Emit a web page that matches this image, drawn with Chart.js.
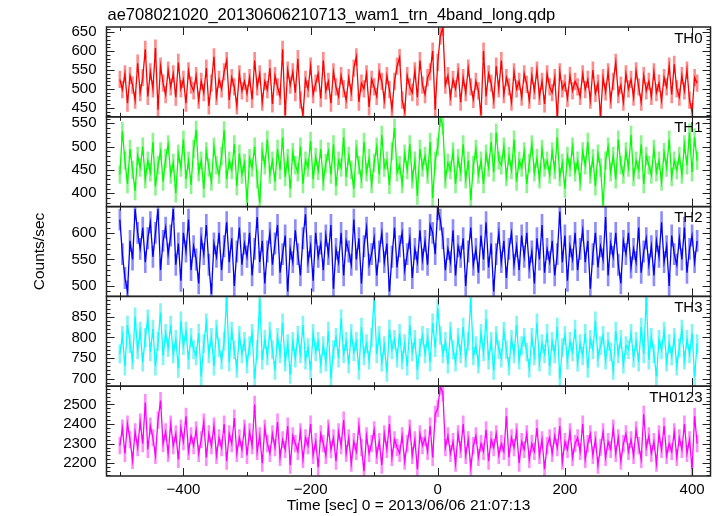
<!DOCTYPE html>
<html>
<head>
<meta charset="utf-8">
<title>ae708021020 WAM light curve</title>
<script src="https://cdn.jsdelivr.net/npm/chart.js@4/dist/chart.umd.min.js"></script>
<style>
  html, body { margin: 0; padding: 0; background: #fff; }
  canvas { display: block; }
</style>
</head>
<body>
<canvas id="lcChart" width="718" height="516"></canvas>
<script>
// 4 s bins, first bin at -500 s
var binStart = -500;
var binWidth = 4;

var bandNames = ['TH0', 'TH1', 'TH2', 'TH3', 'TH0123'];

var th0 = [
  525, 498, 540, 462, 535, 510, 470, 568, 490, 530,
  605, 480, 545, 500, 608, 445, 560, 515, 485, 550,
  505, 540, 478, 570, 500, 525, 462, 548, 510, 495,
  535, 470, 520, 490, 555, 455, 515, 585, 480, 525,
  500, 545, 575, 470, 530, 505, 455, 540, 495, 520,
  488, 530, 472, 575, 505, 540, 465, 520, 498, 555,
  460, 535, 505, 480, 605, 430, 550, 510, 545, 490,
  580, 470, 430, 525, 500, 560, 485, 515, 540, 475,
  575, 495, 520, 462, 545, 505, 480, 535, 500, 470,
  530, 490, 555, 585, 465, 515, 500, 540, 452, 525,
  505, 480, 545, 520, 470, 535, 498, 447, 520, 560,
  583, 470, 440, 535, 505, 490, 548, 478, 575, 510,
  485, 530, 545, 600, 445, 570, 640, 663, 510, 535,
  478, 525, 500, 545, 465, 530, 490, 555, 505, 472,
  520, 495, 430, 600, 480, 540, 515, 470, 560, 500,
  575, 485, 530, 505, 465, 545, 500, 520, 478, 540,
  512, 470, 535, 495, 550, 480, 520, 460, 540, 505,
  490, 530, 425, 545, 500, 515, 475, 535, 495, 520,
  505, 480, 540, 498, 525, 470, 550, 488, 515, 428,
  530, 492, 545, 470, 520, 570, 485, 510, 465, 540,
  500, 525, 478, 548, 505, 465, 535, 495, 520, 480,
  545, 490, 515, 470, 530, 505, 560, 485, 565, 500,
  478, 535, 495, 550, 470, 440, 530, 515
];

var th1 = [
  440, 533, 470, 420, 495, 450, 405, 480, 455, 500,
  430, 470, 445, 510, 415, 460, 490, 425, 475, 505,
  440, 465, 400, 485, 455, 515, 430, 470, 418, 495,
  536, 445, 470, 410, 490, 455, 425, 500, 460, 440,
  480, 535, 430, 470, 450, 505, 415, 485, 440, 465,
  382, 475, 455, 500, 430, 380, 490, 460, 515, 440,
  470, 425, 495, 450, 520, 435, 475, 410, 488, 460,
  445, 500, 420, 470, 455, 512, 430, 478, 448, 495,
  425, 465, 490, 440, 505, 415, 470, 455, 520, 435,
  480, 450, 410, 495, 460, 430, 510, 445, 475, 420,
  465, 500, 440, 525, 455, 470, 418, 490, 540, 445,
  460, 420, 485, 450, 505, 430, 470, 395, 495, 455,
  480, 440, 510, 390, 470, 500, 562, 545, 430, 465,
  450, 490, 420, 475, 445, 505, 430, 470, 385, 460,
  495, 440, 470, 420, 485, 455, 510, 445, 530, 470,
  460, 500, 435, 480, 450, 515, 425, 470, 455, 490,
  420, 465, 505, 445, 475, 430, 495, 455, 470, 440,
  490, 450, 520, 435, 465, 410, 480, 455, 500, 445,
  470, 425, 490, 460, 510, 440, 475, 415, 485, 455,
  375, 470, 500, 445, 480, 430, 515, 460, 440, 490,
  455, 525, 435, 470, 450, 505, 420, 480, 460, 440,
  495, 445, 470, 425, 488, 455, 515, 435, 470, 450,
  480, 440, 505, 460, 530, 445, 520, 470
];

var th2 = [
  625, 560, 515, 490, 585, 550, 645, 600, 570, 610,
  545, 590, 620, 555, 600, 645, 530, 585, 610, 560,
  595, 645, 540, 580, 510, 600, 565, 625, 530, 575,
  550, 505, 590, 560, 615, 540, 485, 580, 555, 600,
  530, 575, 620, 545, 590, 500, 565, 610, 540, 580,
  555, 600, 520, 570, 630, 545, 585, 505, 565, 600,
  540, 580, 615, 525, 560, 595, 490, 570, 545, 605,
  560, 520, 590, 635, 545, 575, 510, 600, 555, 580,
  530, 595, 560, 615, 495, 570, 545, 600, 520, 585,
  565, 540, 625, 550, 590, 505, 575, 610, 540, 560,
  590, 520, 565, 600, 545, 580, 490, 555, 610, 535,
  575, 600, 530, 560, 590, 515, 570, 545, 605, 550,
  585, 540, 615, 600, 560, 645, 625, 590, 530, 570,
  545, 605, 520, 575, 555, 590, 500, 565, 610, 540,
  570, 525, 595, 550, 620, 535, 580, 490, 560, 600,
  545, 585, 515, 570, 600, 540, 575, 530, 595, 555,
  600, 535, 565, 505, 590, 550, 615, 525, 570, 545,
  585, 520, 560, 640, 545, 595, 510, 575, 550, 600,
  530, 570, 605, 545, 585, 495, 560, 600, 535, 575,
  550, 630, 520, 580, 555, 600, 540, 505, 585, 560,
  600, 535, 570, 545, 610, 525, 565, 590, 540, 575,
  520, 585, 555, 620, 545, 575, 500, 595, 560, 540,
  590, 550, 610, 525, 570, 595, 545, 585
];

var th3 = [
  760, 805, 730, 830, 785, 745, 850, 770, 815, 740,
  800, 845, 765, 820, 730, 790, 860, 755, 810, 775,
  830, 760, 795, 725, 840, 780, 815, 745, 800, 770,
  755, 810, 705, 785, 835, 760, 800, 730, 820, 775,
  745, 790, 897, 740, 815, 770, 725, 805, 760, 790,
  735, 780, 810, 700, 770, 893, 745, 795, 755, 815,
  770, 720, 800, 760, 835, 740, 785, 710, 790, 750,
  805, 760, 830, 745, 775, 720, 810, 765, 790, 735,
  780, 740, 815, 700, 770, 800, 750, 845, 760, 790,
  735, 810, 765, 790, 720, 825, 755, 785, 745, 800,
  897, 760, 805, 740, 780, 715, 820, 770, 795, 750,
  810, 745, 785, 730, 830, 765, 795, 720, 775, 805,
  760, 800, 740, 835, 775, 870, 805, 760, 790, 735,
  815, 770, 740, 800, 760, 825, 750, 790, 895, 755,
  780, 735, 810, 765, 845, 745, 790, 720, 805, 770,
  750, 815, 770, 730, 795, 760, 830, 745, 780, 800,
  765, 725, 800, 755, 835, 740, 785, 760, 810, 730,
  790, 760, 825, 700, 775, 805, 745, 790, 765, 820,
  740, 785, 755, 810, 725, 795, 770, 840, 750, 780,
  805, 745, 790, 765, 720, 815, 760, 795, 735, 780,
  770, 810, 750, 790, 740, 825, 760, 897, 745, 800,
  760, 705, 795, 770, 815, 740, 785, 755, 800, 730,
  775, 820, 745, 795, 760, 810, 705, 785
];

var th0123 = [
  2290, 2380, 2250, 2400, 2320, 2215, 2360, 2280, 2410, 2300,
  2510, 2270, 2390, 2330, 2240, 2420, 2520, 2300, 2360, 2250,
  2400, 2290, 2350, 2220, 2380, 2310, 2440, 2260, 2340, 2290,
  2370, 2250, 2320, 2410, 2230, 2350, 2290, 2390, 2240, 2330,
  2280, 2400, 2210, 2350, 2300, 2430, 2250, 2330, 2270, 2380,
  2240, 2360, 2290, 2500, 2260, 2340, 2200, 2380, 2300, 2250,
  2350, 2280, 2410, 2230, 2320, 2270, 2390, 2190, 2340, 2300,
  2260, 2360, 2220, 2330, 2290, 2400, 2240, 2310, 2180, 2350,
  2300, 2240, 2380, 2270, 2330, 2210, 2360, 2290, 2420, 2250,
  2330, 2200, 2310, 2260, 2390, 2280, 2160, 2340, 2250, 2300,
  2370, 2240, 2310, 2190, 2350, 2270, 2400, 2230, 2320, 2280,
  2250, 2340, 2210, 2300, 2380, 2240, 2320, 2170, 2350, 2290,
  2330, 2260, 2390, 2230, 2450, 2480, 2590, 2560, 2280, 2340,
  2250, 2310, 2200, 2350, 2270, 2400, 2240, 2320, 2180, 2290,
  2340, 2230, 2300, 2260, 2370, 2210, 2320, 2280, 2350, 2240,
  2300, 2260, 2440, 2230, 2330, 2280, 2360, 2200, 2310, 2270,
  2350, 2220, 2300, 2260, 2380, 2240, 2320, 2170, 2290, 2330,
  2250, 2340, 2280, 2390, 2210, 2310, 2270, 2360, 2230, 2300,
  2330, 2260, 2400, 2220, 2300, 2350, 2240, 2320, 2190, 2280,
  2360, 2230, 2310, 2270, 2380, 2250, 2330, 2210, 2300, 2350,
  2260, 2320, 2240, 2370, 2290, 2220, 2450, 2280, 2340, 2250,
  2310, 2200, 2350, 2270, 2390, 2240, 2300, 2260, 2360, 2230,
  2330, 2270, 2400, 2250, 2320, 2170, 2440, 2300
];

// half-length of the error bars per band (counts/sec)
var bandErrors = [22, 19, 20, 22, 42];

// panel y ranges and tick steps
var yMins = [426, 371.5, 480.5, 681.5, 2135];
var yMaxs = [664, 564, 649.5, 899.5, 2593];
var yMajor = [50, 50, 50, 50, 100];
var yMinor = [10, 10, 10, 10, 20];

var lineColors = ['#ff0000', '#00ff00', '#0000ff', '#00ffff', '#ff00ff'];
var errColors = ['rgba(255,0,0,0.45)', 'rgba(0,230,0,0.45)', 'rgba(0,0,255,0.45)',
  'rgba(0,235,235,0.5)', 'rgba(255,0,255,0.45)'];

var titleText = 'ae708021020_20130606210713_wam1_trn_4band_long.qdp';
var xTitle = 'Time [sec] 0 = 2013/06/06 21:07:13';
var yTitle = 'Counts/sec';

var FONT = '"Liberation Sans", Arial, Helvetica, sans-serif';
Chart.defaults.font.family = FONT;
Chart.defaults.color = '#000';

function minus(v) {
  return v < 0 ? '\u2212' + Math.abs(v) : String(v);
}

var series = [th0, th1, th2, th3, th0123];

// the curves
var datasets = series.map(function (vals, i) {
  return {
    type: 'line',
    label: bandNames[i],
    yAxisID: 'y' + i,
    order: 0,
    data: vals.map(function (v, k) { return { x: binStart + k * binWidth, y: v }; }),
    borderColor: lineColors[i],
    borderWidth: 1.3,
    pointRadius: 0,
    tension: 0,
    fill: false
  };
});

// error bars as thin floating bars, kept inside each panel
series.forEach(function (vals, i) {
  datasets.push({
    type: 'bar',
    label: bandNames[i] + ' err',
    yAxisID: 'y' + i,
    order: 1,
    grouped: false,
    barThickness: 2,
    borderWidth: 0,
    backgroundColor: errColors[i],
    data: vals.map(function (v, k) {
      var lo = Math.max(v - bandErrors[i], yMins[i]);
      var hi = Math.min(v + bandErrors[i], yMaxs[i]);
      return { x: binStart + k * binWidth, y: [lo, hi] };
    })
  });
});

var scales = {
  x: {
    type: 'linear',
    position: 'bottom',
    min: -521,
    max: 429,
    offset: false,
    grid: { display: false, drawTicks: false },
    border: { display: false },
    ticks: {
      stepSize: 200,
      includeBounds: false,
      autoSkip: false,
      maxRotation: 0,
      padding: 5,
      font: { size: 15 },
      color: '#000',
      callback: function (v) { return minus(v); }
    },
    title: {
      display: true,
      text: xTitle,
      font: { size: 15.5 },
      color: '#000',
      padding: { top: 0, bottom: 1 }
    },
    afterFit: function (s) { s.height = 40; }
  }
};

// stacked left axes are laid out from the last defined one at the top,
// so add them bottom panel first
for (var i = bandNames.length - 1; i >= 0; i--) {
  scales['y' + i] = {
    type: 'linear',
    position: 'left',
    stack: 'panels',
    stackWeight: 1,
    min: yMins[i],
    max: yMaxs[i],
    grid: { display: false, drawTicks: false },
    border: { display: false },
    ticks: {
      stepSize: yMajor[i],
      includeBounds: false,
      autoSkip: false,
      padding: 10,
      font: { size: 15 },
      color: '#000',
      callback: function (v) { return String(v); }
    },
    afterFit: function (s) { s.width = 106.5; }
  };
}

// frames, inward ticks and the texts
var qdpFrame = {
  id: 'qdpFrame',
  afterDraw: function (chart) {
    var ctx = chart.ctx;
    var area = chart.chartArea;
    var xs = chart.scales.x;
    var L = area.left, R = area.right;
    ctx.save();
    ctx.strokeStyle = '#222';
    ctx.lineWidth = 1;

    bandNames.forEach(function (name, i) {
      var ys = chart.scales['y' + i];
      var T = ys.top, B = ys.bottom;
      ctx.beginPath();
      // x ticks every 100 s, longer on the labelled ones
      for (var t = -500; t <= 400; t += 100) {
        var px = Math.round(xs.getPixelForValue(t)) + 0.5;
        var len = (t % 200 === 0) ? 8 : 4;
        ctx.moveTo(px, T); ctx.lineTo(px, T + len);
        ctx.moveTo(px, B); ctx.lineTo(px, B - len);
      }
      // y ticks
      var start = Math.ceil(yMins[i] / yMinor[i]) * yMinor[i];
      for (var v = start; v <= yMaxs[i]; v += yMinor[i]) {
        var py = Math.round(ys.getPixelForValue(v)) + 0.5;
        var l2 = (v % yMajor[i] === 0) ? 8 : 4;
        ctx.moveTo(L, py); ctx.lineTo(L + l2, py);
        ctx.moveTo(R, py); ctx.lineTo(R - l2, py);
      }
      ctx.stroke();

      ctx.lineWidth = 1.5;
      ctx.strokeRect(L, T, R - L, B - T);
      ctx.lineWidth = 1;

      ctx.fillStyle = '#000';
      ctx.font = '15px ' + FONT;
      ctx.textAlign = 'right';
      ctx.textBaseline = 'top';
      ctx.fillText(name, R - 8, T + 4);
    });

    ctx.fillStyle = '#000';
    ctx.font = '16.5px ' + FONT;
    ctx.textAlign = 'left';
    ctx.textBaseline = 'middle';
    ctx.fillText(titleText, L + 1, 15);

    ctx.translate(40, (area.top + area.bottom) / 2);
    ctx.rotate(-Math.PI / 2);
    ctx.textAlign = 'center';
    ctx.font = '15.5px ' + FONT;
    ctx.fillText(yTitle, 0, 0);
    ctx.restore();
  }
};

new Chart(document.getElementById('lcChart'), {
  type: 'line',
  data: { datasets: datasets },
  options: {
    responsive: false,
    animation: false,
    events: [],
    layout: { padding: { top: 27, right: 7.5, left: 0, bottom: 0 } },
    plugins: {
      legend: { display: false },
      tooltip: { enabled: false }
    },
    scales: scales
  },
  plugins: [qdpFrame]
});
</script>
</body>
</html>
